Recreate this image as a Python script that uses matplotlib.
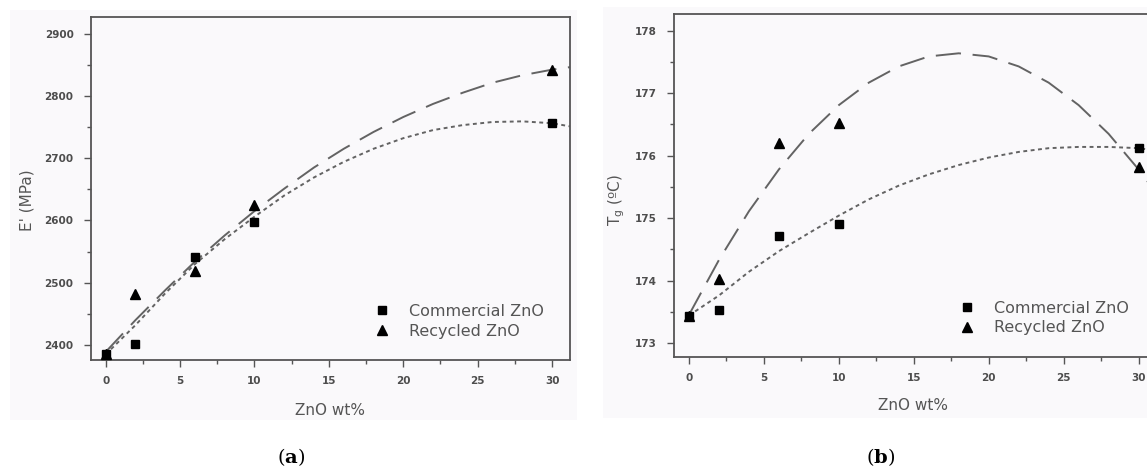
import matplotlib
matplotlib.use('Agg')
import matplotlib.pyplot as plt
from matplotlib.patches import Rectangle
from matplotlib.ticker import MultipleLocator

plt.rcParams['mathtext.fontset'] = 'dejavuserif'

# measured points
zno = [0, 2, 6, 10, 30]
mod_comm = [2386, 2402, 2542, 2597, 2757]
mod_recy = [2385, 2482, 2519, 2624, 2841]
tg_comm = [173.43, 173.52, 174.71, 174.91, 176.12]
tg_recy = [173.43, 174.02, 176.20, 176.52, 175.82]

# trend lines
fit_x = [0, 2, 4, 6, 8, 10, 12, 14, 16, 18, 20, 22, 24, 26, 28, 30, 31.2]
fit_mod_comm = [2385, 2432, 2483, 2530, 2570, 2606, 2640, 2669, 2694, 2715,
                2732, 2745, 2753, 2758, 2759, 2756, 2751]
fit_mod_recy = [2389, 2440, 2488, 2534, 2576, 2615, 2651, 2685, 2715, 2742,
                2766, 2787, 2805, 2821, 2833, 2842, 2846]
fit_x_b = [0, 2, 4, 6, 8, 10, 12, 14, 16, 18, 20, 22, 24, 26, 28, 30, 30.9]
fit_tg_comm = [173.44, 173.76, 174.14, 174.47, 174.76, 175.04, 175.30, 175.52, 175.70,
               175.85, 175.97, 176.06, 176.12, 176.14, 176.14, 176.12, 176.09]
fit_tg_recy = [173.45, 174.33, 175.11, 175.78, 176.35, 176.81, 177.17, 177.43, 177.59,
               177.64, 177.59, 177.43, 177.17, 176.81, 176.35, 175.78, 175.49]

grey = '#555555'
bg = '#faf9fb'
line_col = '#636363'

fig = plt.figure(figsize=(11.47, 4.69), dpi=100)
fig.patches.append(Rectangle((0.0087, 0.1045), 0.4943, 0.874, transform=fig.transFigure,
                             facecolor=bg, edgecolor='none', zorder=-10))
fig.patches.append(Rectangle((0.5257, 0.1087), 0.4743, 0.876, transform=fig.transFigure,
                             facecolor=bg, edgecolor='none', zorder=-10))

ax1 = fig.add_axes([0.0793, 0.2324, 0.4176, 0.7307])
ax2 = fig.add_axes([0.5879, 0.2382, 0.4165, 0.7320])


def style(ax, fx, fc, fr, xc, yc, yr, ylab, xlim, ylim, ymaj, ymin, lab_x, lab_y, xlab_y, leg_xy):
    ax.set_facecolor(bg)
    ax.plot(fx, fr, color=line_col, lw=1.4, linestyle=(0, (13, 6)), zorder=2)
    ax.plot(fx, fc, color=line_col, lw=1.4, linestyle=(0, (2, 1.8)), zorder=2)
    h1, = ax.plot(xc, yc, linestyle='none', marker='s', ms=5.5, color='black',
                  label='Commercial ZnO', zorder=3, clip_on=False)
    h2, = ax.plot(xc, yr, linestyle='none', marker='^', ms=7.5, color='black',
                  label='Recycled ZnO', zorder=3, clip_on=False)
    ax.set_xlim(*xlim)
    ax.set_ylim(*ylim)
    ax.xaxis.set_major_locator(MultipleLocator(5))
    ax.xaxis.set_minor_locator(MultipleLocator(2.5))
    ax.yaxis.set_major_locator(MultipleLocator(ymaj))
    ax.yaxis.set_minor_locator(MultipleLocator(ymin))
    for s in ax.spines.values():
        s.set_color(grey)
        s.set_linewidth(1.3)
    ax.tick_params(which='both', direction='out', color=grey, width=1.0,
                   labelcolor='#4d4d4d', labelsize=7.5)
    ax.tick_params(which='major', length=5)
    ax.tick_params(which='minor', length=3)
    ax.tick_params(axis='y', pad=7.5)
    ax.tick_params(axis='x', pad=6.5)
    for t in ax.get_xticklabels() + ax.get_yticklabels():
        t.set_fontweight('bold')
    ax.set_xlabel('ZnO wt%', fontsize=11, color=grey, va='center')
    ax.set_ylabel(ylab, fontsize=11, color=grey, va='center')
    ax.xaxis.set_label_coords(0.5, xlab_y)
    ax.yaxis.set_label_coords(lab_x, lab_y)
    leg = ax.legend(handles=[h1, h2], loc='upper left', bbox_to_anchor=leg_xy,
                    frameon=False, borderpad=0, borderaxespad=0, handlelength=1.0,
                    handletextpad=1.2, labelspacing=0.3, fontsize=11.5)
    for t in leg.get_texts():
        t.set_color(grey)


style(ax1, fit_x, fit_mod_comm, fit_mod_recy, zno, mod_comm, mod_recy,
      "E' (MPa)", (-0.99, 31.2), (2376, 2926), 100, 50,
      -0.134, 0.467, -0.146, (0.590, 0.164))
style(ax2, fit_x_b, fit_tg_comm, fit_tg_recy, zno, tg_comm, tg_recy,
      r'T$_\mathregular{g}$ (ºC)', (-0.98, 30.9), (172.77, 178.27), 1, 0.5,
      -0.121, 0.458, -0.139, (0.595, 0.165))

fig.text(291 / 1147, 1 - 457 / 469, r'($\mathbf{a}$)', family='DejaVu Serif',
         fontsize=14, ha='center', va='center')
fig.text(881 / 1147, 1 - 457 / 469, r'($\mathbf{b}$)', family='DejaVu Serif',
         fontsize=14, ha='center', va='center')

fig.savefig('out.png', dpi=100)
